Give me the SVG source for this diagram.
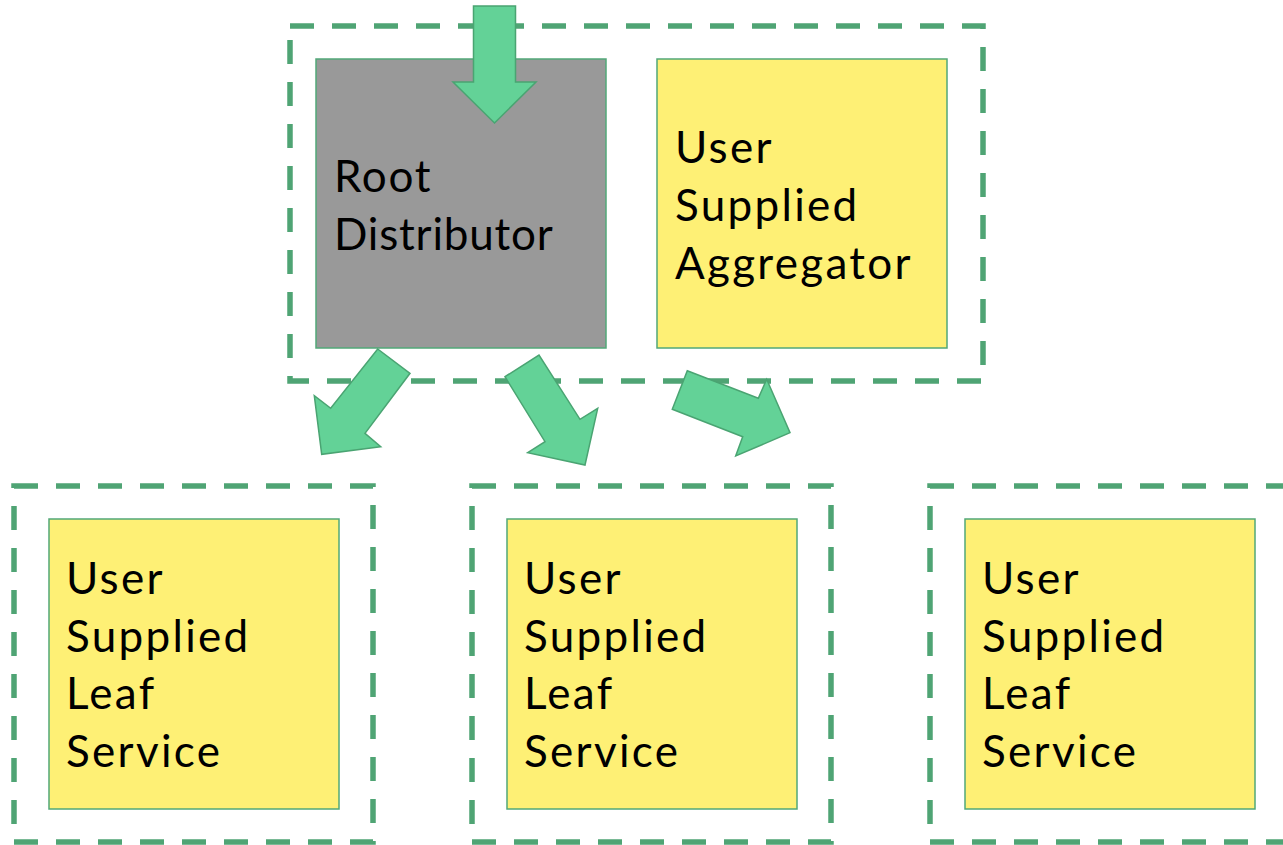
<svg xmlns="http://www.w3.org/2000/svg" width="1283" height="845" viewBox="0 0 1283 845">
<style>
.group{fill:none;stroke:#4fa474;stroke-width:5.5;stroke-dasharray:24 18}
.yellow{fill:#fef075;stroke:#52a878;stroke-width:1.5}
.gray{fill:#999999;stroke:#52a878;stroke-width:1.5}
.arrow{fill:#63d297;stroke:#4aa472;stroke-width:1.5;stroke-linejoin:miter}
.lbl{font-family:Lato,"Open Sans",sans-serif;font-size:44px;fill:#000;letter-spacing:2.3px}
</style>
<rect width="1283" height="845" fill="#fff"/>
<g id="top-group">
<rect class="group" x="290" y="26" width="693" height="355"/>
</g>
<g id="root-distributor">
<rect class="gray" x="316" y="59" width="290" height="289"/>
<text class="lbl"><tspan x="334" y="192" letter-spacing="1.7">Root</tspan><tspan x="334" y="250" letter-spacing="0.8">Distributor</tspan></text>
</g>
<g id="aggregator">
<rect class="yellow" x="657" y="59" width="290" height="289"/>
<text class="lbl"><tspan x="675" y="163">User</tspan><tspan x="675" y="221">Supplied</tspan><tspan x="675" y="279">Aggregator</tspan></text>
</g>
<g id="leaf-group-1">
<rect class="group" x="14" y="486" width="359" height="356"/>
</g>
<g id="leaf-1">
<rect class="yellow" x="49" y="519" width="290" height="290"/>
<text class="lbl"><tspan x="66" y="594">User</tspan><tspan x="66" y="652">Supplied</tspan><tspan x="66" y="709">Leaf</tspan><tspan x="66" y="767">Service</tspan></text>
</g>
<g id="leaf-group-2">
<rect class="group" x="472" y="486" width="359" height="356"/>
</g>
<g id="leaf-2">
<rect class="yellow" x="507" y="519" width="290" height="290"/>
<text class="lbl"><tspan x="524" y="594">User</tspan><tspan x="524" y="652">Supplied</tspan><tspan x="524" y="709">Leaf</tspan><tspan x="524" y="767">Service</tspan></text>
</g>
<g id="leaf-group-3">
<rect class="group" x="930" y="486" width="359" height="356"/>
</g>
<g id="leaf-3">
<rect class="yellow" x="965" y="519" width="290" height="290"/>
<text class="lbl"><tspan x="982" y="594">User</tspan><tspan x="982" y="652">Supplied</tspan><tspan x="982" y="709">Leaf</tspan><tspan x="982" y="767">Service</tspan></text>
</g>
<g id="connectors">
<polygon class="arrow" points="473.5,6 515.5,6 515.5,82 536,82 494.5,123 453,82 473.5,82"/>
<polygon class="arrow" points="377.7,349 410,373.3 365,433.3 380.7,446.7 321.7,454.3 314.3,395.7 330.7,408.3"/>
<polygon class="arrow" points="505,376.7 539,355 580,419.3 597.7,408.3 585,465 527.7,452.7 545,441.7"/>
<polygon class="arrow" points="672.3,409.3 687.3,370.7 758.3,398.3 766.7,379.3 790,432.7 735.7,456 742.7,436.7"/>
</g>
</svg>
